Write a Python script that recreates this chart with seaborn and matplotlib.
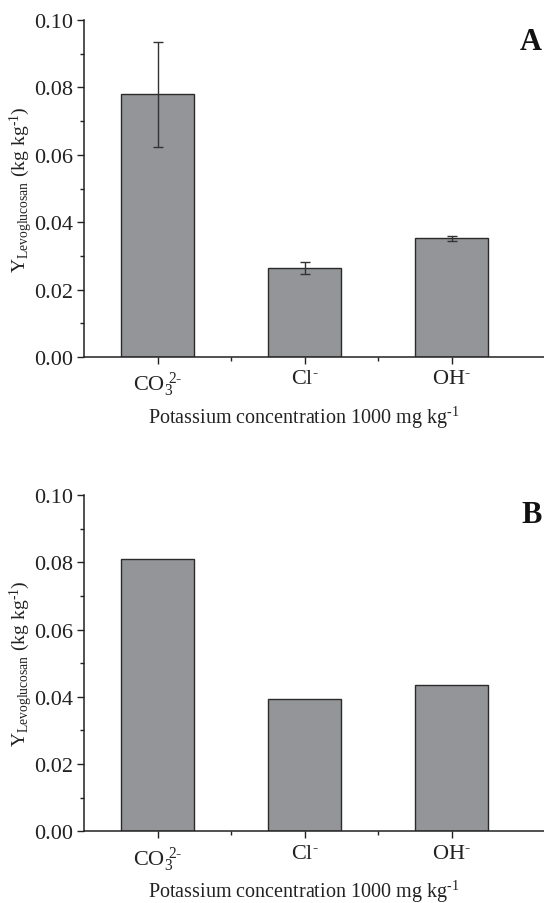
import matplotlib
matplotlib.use("Agg")
import matplotlib.pyplot as plt
import seaborn as sns
import pandas as pd
import numpy as np
from matplotlib.ticker import MultipleLocator

sns.set_theme(style="ticks")
plt.rcParams['font.family'] = ['Liberation Serif', 'DejaVu Serif']
plt.rcParams['mathtext.fontset'] = 'custom'
plt.rcParams['mathtext.rm'] = 'Liberation Serif'
plt.rcParams['mathtext.it'] = 'Liberation Serif'
plt.rcParams['mathtext.bf'] = 'Liberation Serif:bold'

categories = [r'$\mathrm{CO}_{\mathrm{3}}^{\ \text{2-}}$', r'$\mathrm{Cl}^{\text{-}}$', r'$\mathrm{OH}^{\text{-}}$']
values_a = [0.0779, 0.0264, 0.0352]
errors_a = [0.0155, 0.0017, 0.0007]
values_b = [0.0809, 0.0392, 0.0435]
panel_letters = ['A', 'B']
ylabel = r'$\mathrm{Y}_{\mathrm{Levoglucosan}}\ (\mathrm{kg\ kg}^{\text{-1}})$'
xlabel = r'Potassium concentration 1000 mg kg$^{\text{-1}}$'

W, H = 544, 904
fig = plt.figure(figsize=(W / 100, H / 100), dpi=100)

def px_axes(left, top, right, bottom):
    return fig.add_axes([left / W, 1 - bottom / H, (right - left) / W, (bottom - top) / H])

ax_a = px_axes(84, 21, 544, 358)
ax_b = px_axes(84, 496, 544, 832.3)

bar_color = '#939598'
edge_color = '#2b2b2b'

def draw(ax, vals, errs, letter, letter_y):
    df = pd.DataFrame({'cat': categories, 'val': vals})
    sns.barplot(data=df, x='cat', y='val', ax=ax, color=bar_color, width=0.5,
                edgecolor=edge_color, linewidth=1.0, errorbar=None, saturation=1)
    if errs is not None:
        ax.errorbar(np.arange(len(vals)), vals, yerr=errs, fmt='none',
                    ecolor='#333333', elinewidth=1.0, capsize=3.5, capthick=1.0)
    ax.set_ylim(0, 0.10)
    ax.set_xlim(-0.5, (544 - 84) / 147 - 0.5)
    ax.yaxis.set_major_locator(MultipleLocator(0.02))
    ax.yaxis.set_minor_locator(MultipleLocator(0.01))
    ax.set_xticks([0, 1, 2])
    ax.set_xticks([0.5, 1.5], minor=True)
    ax.set_yticklabels([f'{v:.2f}' for v in ax.get_yticks()])
    ax.tick_params(axis='both', which='major', direction='out', length=5, width=1,
                   labelsize=16, color='#222222', labelcolor='#222222', pad=3)
    ax.tick_params(axis='both', which='minor', direction='out', length=3, width=1,
                   color='#222222')
    ax.tick_params(axis='x', which='major', pad=4)
    for s in ['top', 'right']:
        ax.spines[s].set_visible(False)
    for s in ['left', 'bottom']:
        ax.spines[s].set_linewidth(1.1)
        ax.spines[s].set_color('#222222')
    ax.set_ylabel(ylabel, fontsize=14, color='#222222')
    ax.yaxis.set_label_coords(-(84 - 21) / 460, 0.5)
    ax.yaxis.label.set_va('center')
    ax.set_xlabel(xlabel, fontsize=14.5, color='#222222')
    ax.xaxis.set_label_coords((304 - 84) / 460, -60 / 337)
    ax.xaxis.label.set_va('center')
    ax.text((542 - 84) / 460, letter_y, letter, transform=ax.transAxes, fontsize=22,
            fontweight='bold', ha='right', va='center', color='#111111')

draw(ax_a, values_a, errors_a, panel_letters[0], 0.936)
draw(ax_b, values_b, None, panel_letters[1], 0.942)

fig.savefig('out.png', dpi=100)
